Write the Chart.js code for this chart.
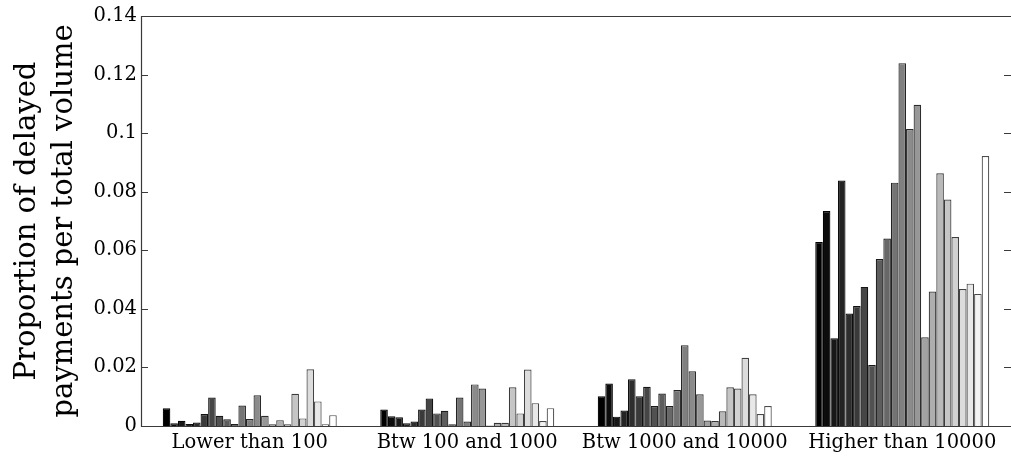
<!DOCTYPE html>
<html>
<head>
<meta charset="utf-8">
<script src="https://cdn.jsdelivr.net/npm/chart.js@4"></script>
<style>
  html, body { margin: 0; padding: 0; background: #fff; }
  #wrap { width: 1011px; height: 459px; }
</style>
</head>
<body>
<div id="wrap"><canvas id="chart"></canvas></div>
<script>
var categories = ['Lower than 100', 'Btw 100 and 1000', 'Btw 1000 and 10000', 'Higher than 10000'];

// one array per volume class, 23 series each (series order left to right)
var lowerThan100 = [0.0061, 0.0009, 0.0018, 0.0007, 0.0012, 0.0041, 0.0097, 0.0035, 0.0023, 0.0007, 0.0070, 0.0024,
    0.0105, 0.0035, 0.0006, 0.0020, 0.0006, 0.0110, 0.0026, 0.0194, 0.0084, 0.0006, 0.0037];
var btw100and1000 = [0.0056, 0.0033, 0.0030, 0.0009, 0.0015, 0.0056, 0.0094, 0.0043, 0.0052, 0.0006, 0.0097, 0.0015,
    0.0142, 0.0128, 0.0002, 0.0011, 0.0011, 0.0132, 0.0043, 0.0193, 0.0078, 0.0017, 0.0061];
var btw1000and10000 = [0.0102, 0.0145, 0.0032, 0.0053, 0.0160, 0.0102, 0.0134, 0.0068, 0.0111, 0.0068, 0.0123, 0.0276,
    0.0187, 0.0108, 0.0019, 0.0017, 0.0050, 0.0132, 0.0128, 0.0233, 0.0108, 0.0041, 0.0068];
var higherThan10000 = [0.0628, 0.0734, 0.0300, 0.0838, 0.0384, 0.0410, 0.0475, 0.0208, 0.0570, 0.0640, 0.0831, 0.1239,
    0.1014, 0.1097, 0.0303, 0.0459, 0.0863, 0.0773, 0.0645, 0.0468, 0.0486, 0.0451, 0.0922];

var yTicks = [0, 0.02, 0.04, 0.06, 0.08, 0.1, 0.12, 0.14];

var seriesCount = lowerThan100.length;

var buildDatasets = function () {
    var sets = [];
    for (var i = 0; i < seriesCount; i++) {
        var g = Math.round(255 * i / (seriesCount - 1));
        var b = Math.round(g * 0.3);
        sets.push({
            label: 'Series ' + (i + 1),
            data: [lowerThan100[i], btw100and1000[i], btw1000and10000[i], higherThan10000[i]],
            backgroundColor: 'rgb(' + g + ',' + g + ',' + g + ')',
            borderColor: 'rgb(' + b + ',' + b + ',' + b + ')',
            borderWidth: 1.2,
            barPercentage: 1.0,
            categoryPercentage: 0.8
        });
    }
    return sets;
};

// matlab style box (right side falls off the canvas) with inward tick marks
var boxPlugin = {
    id: 'box',
    afterDraw: function (chart) {
        var ctx = chart.ctx;
        var a = chart.chartArea;
        var y = chart.scales.y;
        ctx.save();
        ctx.strokeStyle = '#3a3a3a';
        ctx.lineWidth = 1.2;
        ctx.beginPath();
        ctx.moveTo(a.right, a.top + 0.5);
        ctx.lineTo(a.left + 0.5, a.top + 0.5);
        ctx.lineTo(a.left + 0.5, a.bottom + 0.5);
        ctx.lineTo(a.right, a.bottom + 0.5);
        yTicks.forEach(function (v) {
            var py = Math.round(y.getPixelForValue(v)) + 0.5;
            ctx.moveTo(a.left, py);
            ctx.lineTo(a.left + 7, py);
            ctx.moveTo(a.right - 7, py);
            ctx.lineTo(a.right, py);
        });
        ctx.stroke();
        ctx.restore();
    }
};

new Chart(document.getElementById('chart'), {
    type: 'bar',
    data: {
        labels: categories,
        datasets: buildDatasets()
    },
    options: {
        responsive: true,
        maintainAspectRatio: false,
        animation: false,
        layout: {
            padding: { top: 16, right: 0, left: 0, bottom: 0 }
        },
        plugins: {
            legend: { display: false },
            tooltip: { enabled: false }
        },
        scales: {
            x: {
                grid: { display: false, drawTicks: false },
                border: { display: false },
                ticks: {
                    color: '#000',
                    padding: 5,
                    maxRotation: 0,
                    font: { family: 'DejaVu Serif', size: 19.5 }
                },
                afterFit: function (scale) { scale.height = 33; }
            },
            y: {
                min: 0,
                max: 0.14,
                grid: { display: false, drawTicks: false },
                border: { display: false },
                afterBuildTicks: function (scale) {
                    scale.ticks = yTicks.map(function (v) { return { value: v }; });
                },
                ticks: {
                    color: '#000',
                    padding: 4,
                    font: { family: 'DejaVu Serif', size: 19.5 },
                    callback: function (v) { return String(+v.toFixed(2)); }
                },
                title: {
                    display: true,
                    text: ['Proportion of delayed', 'payments per total volume'],
                    color: '#000',
                    font: { family: 'DejaVu Serif', size: 29, lineHeight: 1.276 },
                    padding: { top: 9, bottom: 0 }
                },
                afterFit: function (scale) { scale.width = 141; }
            }
        }
    },
    plugins: [boxPlugin]
});
</script>
</body>
</html>
